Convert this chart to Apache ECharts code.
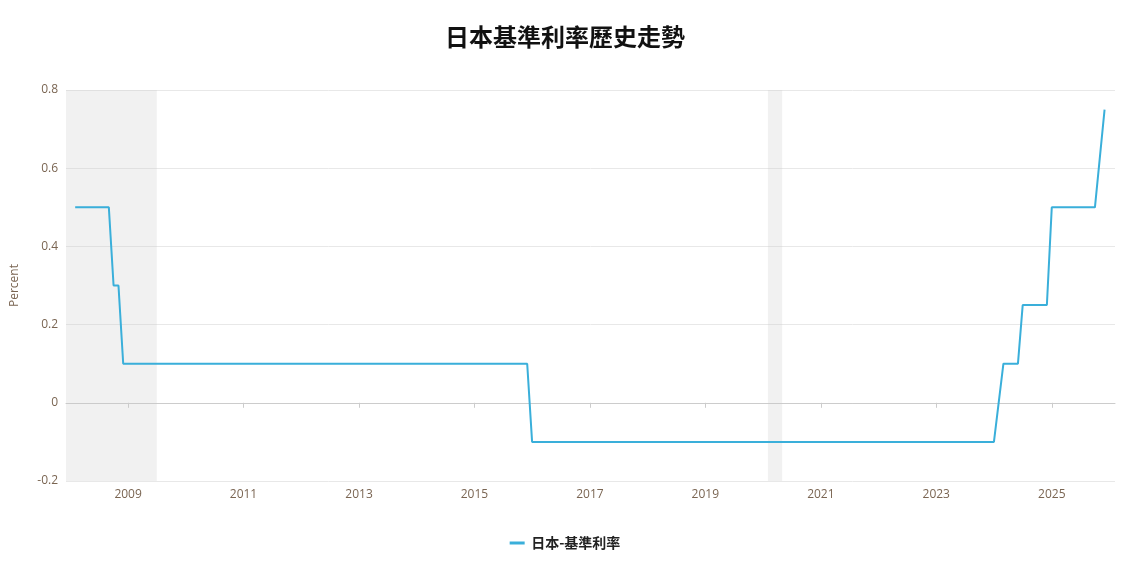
<!DOCTYPE html>
<html><head><meta charset="utf-8">
<script src="https://cdn.jsdelivr.net/npm/echarts@6/dist/echarts.min.js"></script>
<style>html,body{margin:0;padding:0;background:#fff}#c{width:1130px;height:579px}</style>
</head><body><div id="c"></div>
<script>
const dates = ['2008-02-01','2008-09-01','2008-10-01','2008-11-01','2008-12-01','2015-12-01','2016-01-01','2024-01-01','2024-03-01','2024-06-01','2024-07-01','2024-12-01','2025-01-01','2025-10-01','2025-12-01'];
const rates = [0.5,0.5,0.3,0.3,0.1,0.1,-0.1,-0.1,0.1,0.1,0.25,0.25,0.5,0.5,0.75];
const recessions = [['2007-12-05','2009-07-01'],['2020-02-01','2020-05-01']];
const chart = echarts.init(document.getElementById('c'));
const lab = {color:'#7a6552', fontFamily:'Open Sans', fontSize:12};
chart.setOption({
  animation:false,
  title:{text:'日本基準利率歷史走勢', left:'center', top:20, textStyle:{fontFamily:'Noto Sans CJK TC', fontSize:24, fontWeight:'bold', color:'#111'}},
  legend:{bottom:24, itemWidth:18, icon:'path://M0,0 L10,0 L10,2 L0,2 Z', itemHeight:3, textStyle:{fontFamily:'Noto Sans CJK TC', fontSize:14, fontWeight:'bold', color:'#222'}},
  grid:{left:66, right:15, top:90, bottom:98},
  xAxis:{type:'time', min:'2007-12-05', max:'2026-02-05', minInterval:2*365.25*86400000, maxInterval:2*365.25*86400000,
    axisLabel:Object.assign({formatter:'{yyyy}'},lab), axisLine:{lineStyle:{color:'#ccc'}}, axisTick:{show:true, lineStyle:{color:'#ccc'}}, splitLine:{show:false}},
  yAxis:{type:'value', min:-0.2, max:0.8, interval:0.2, name:'Percent', nameLocation:'middle', nameGap:45,
    nameTextStyle:{color:'#7a6552', fontFamily:'Open Sans', fontSize:12}, axisLabel:lab, splitLine:{lineStyle:{color:'#e8e8e8'}}},
  series:[{name:'日本-基準利率', type:'line', showSymbol:false, symbol:'none', color:'#3aafda', lineStyle:{width:2},
    data:dates.map((d,i)=>[d,rates[i]]),
    markArea:{silent:true, itemStyle:{color:'rgba(200,200,200,0.25)'}, data:recessions.map(r=>[{xAxis:r[0]},{xAxis:r[1]}])}}]
});
</script></body></html>
